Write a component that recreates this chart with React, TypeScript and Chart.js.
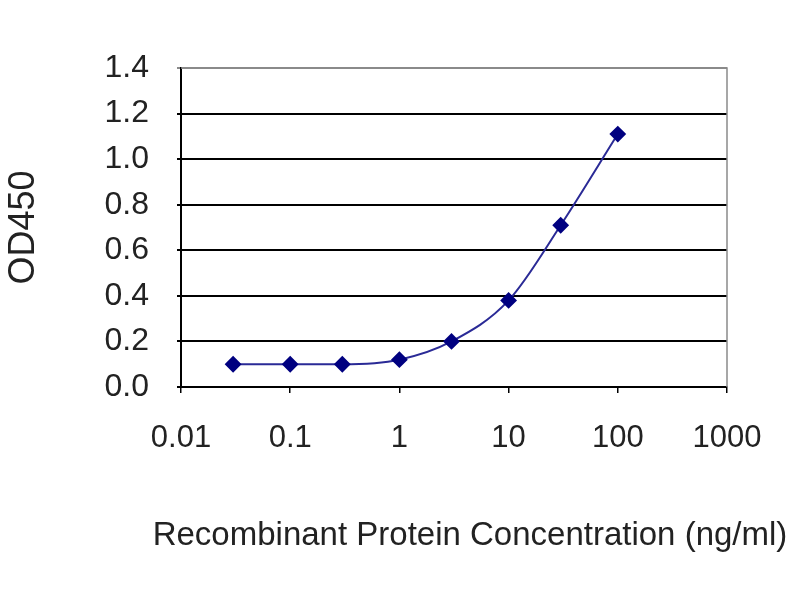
import React, { useEffect, useRef } from 'react';
import { Chart, registerables } from 'chart.js';

Chart.register(...registerables);

const concentrations = [0.03, 0.1, 0.3, 1, 3, 10, 30, 100];
const od450 = [0.1, 0.1, 0.1, 0.12, 0.2, 0.38, 0.71, 1.11];
const xTickValues = [0.01, 0.1, 1, 10, 100, 1000];
const xTickLabels = ['0.01', '0.1', '1', '10', '100', '1000'];
const xTitle = 'Recombinant Protein Concentration (ng/ml)';

const sans = '"Liberation Sans", Arial, sans-serif';

// grey top/right frame, plus the x title drawn without Chart.js' width squeeze
const framePlugin = {
    id: 'frame',
    afterDraw: (chart: Chart) => {
        const { ctx, chartArea } = chart;
        ctx.save();
        ctx.strokeStyle = '#8a8a8a';
        ctx.lineWidth = 1.5;
        ctx.beginPath();
        ctx.moveTo(chartArea.left, chartArea.top);
        ctx.lineTo(chartArea.right, chartArea.top);
        ctx.lineTo(chartArea.right, chartArea.bottom);
        ctx.stroke();

        ctx.fillStyle = '#222';
        ctx.font = `33px ${sans}`;
        ctx.textAlign = 'center';
        ctx.textBaseline = 'middle';
        ctx.fillText(xTitle, 470, 536);
        ctx.restore();
    },
};

const App: React.FC = () => {
    const chartRef = useRef<HTMLCanvasElement>(null);

    useEffect(() => {
        document.body.style.margin = '0';
        if (!chartRef.current) return;
        const ctx = chartRef.current.getContext('2d');
        if (!ctx) return;

        const chart = new Chart(ctx, {
            type: 'line',
            data: {
                datasets: [
                    {
                        data: concentrations.map((x, i) => ({ x, y: od450[i] })),
                        borderColor: '#2a2a96',
                        backgroundColor: '#000080',
                        borderWidth: 2,
                        pointStyle: 'rectRot',
                        pointRadius: 7,
                        pointBorderColor: '#000080',
                        pointBackgroundColor: '#000080',
                        cubicInterpolationMode: 'monotone',
                    },
                ],
            },
            options: {
                animation: false,
                responsive: false,
                layout: { padding: { top: 68, right: 73, left: 0, bottom: 0 } },
                plugins: { legend: { display: false }, tooltip: { enabled: false } },
                scales: {
                    x: {
                        type: 'logarithmic',
                        min: 0.01,
                        max: 1000,
                        afterBuildTicks: (scale: any) => {
                            scale.ticks = xTickValues.map((v) => ({ value: v }));
                        },
                        afterFit: (scale: any) => {
                            scale.height = 213;
                        },
                        ticks: {
                            color: '#222',
                            font: { family: sans, size: 31 },
                            padding: 27,
                            maxRotation: 0,
                            autoSkip: false,
                            callback: (_v: any, i: number) => xTickLabels[i],
                        },
                        grid: { drawOnChartArea: false, tickLength: 6, color: '#000', lineWidth: 1.5 },
                        border: { color: '#000', width: 2 },
                    },
                    y: {
                        min: 0,
                        max: 1.4,
                        afterFit: (scale: any) => {
                            scale.width = 181;
                        },
                        ticks: {
                            stepSize: 0.2,
                            autoSkip: false,
                            color: '#222',
                            font: { family: sans, size: 32 },
                            padding: 28,
                            callback: (v: any) => Number(v).toFixed(1),
                        },
                        grid: {
                            color: (c: any) => (c.tick && c.tick.value >= 1.39 ? '#8a8a8a' : '#000'),
                            lineWidth: 2,
                            tickLength: 4,
                        },
                        border: { color: '#000', width: 2 },
                        title: {
                            display: true,
                            text: 'OD450',
                            color: '#222',
                            font: { family: sans, size: 36 },
                            padding: { top: 2, bottom: 0 },
                        },
                    },
                },
            },
            plugins: [framePlugin],
        });

        return () => {
            chart.destroy();
        };
    }, []);

    return (
        <div style={{ position: 'relative', width: '800px', height: '600px', background: '#fff' }}>
            <canvas ref={chartRef} width={800} height={600}></canvas>
        </div>
    );
};

export default App;
